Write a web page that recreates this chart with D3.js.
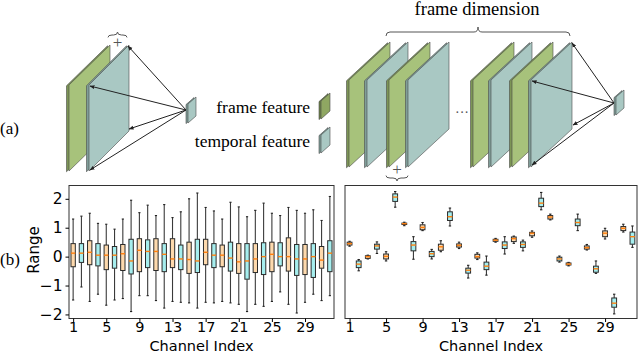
<!DOCTYPE html>
<html>
<head>
<meta charset="utf-8">
<script src="https://cdn.jsdelivr.net/npm/d3@7"></script>
<style>
  body { margin: 0; background: #fff; }
  svg { display: block; }
  .tick text { font-family: "DejaVu Sans", sans-serif; }
</style>
</head>
<body>
<div id="chart"></div>
<script>
// ---- data: left plot (frame dimension, per channel) ----
const channels = d3.range(1, 33);
const tickChannels = [1, 5, 9, 13, 17, 21, 25, 29];
const yTicks = [-2, -1, 0, 1, 2];

const leftLow  = [-1.5, -1.05, -1.55, -1.3, -1.68, -1.5, -1.45, -1.9, -1.35, -1.35, -1.52, -1.78, -1.55, -1.58, -1.6, -1.78,
                  -1.58, -1.6, -1.55, -1.6, -1.65, -1.9, -1.65, -1.72, -1.55, -1.22, -1.65, -1.95, -1.58, -1.3, -1.52, -1.35];
const leftQ1   = [-0.35, -0.2, -0.28, -0.32, -0.45, -0.4, -0.48, -0.6, -0.52, -0.38, -0.48, -0.52, -0.38, -0.45, -0.58, -0.55,
                  -0.28, -0.38, -0.35, -0.5, -0.58, -0.78, -0.55, -0.62, -0.52, -0.32, -0.5, -0.65, -0.62, -0.72, -0.4, -0.52];
const leftMed  = [0.12, 0.12, 0.15, 0.05, 0.05, 0.05, 0.1, -0.15, 0.22, 0.18, 0.18, 0.08, -0.08, -0.08, -0.1, -0.15,
                  0.15, 0.05, 0.05, -0.05, -0.18, -0.15, -0.08, 0.0, 0.08, 0.0, 0.0, -0.08, -0.08, 0.0, -0.12, 0.12];
const leftQ3   = [0.45, 0.45, 0.55, 0.45, 0.4, 0.35, 0.42, 0.6, 0.62, 0.58, 0.62, 0.45, 0.62, 0.4, 0.5, 0.6,
                  0.6, 0.45, 0.4, 0.5, 0.45, 0.45, 0.45, 0.48, 0.5, 0.48, 0.65, 0.42, 0.42, 0.45, 0.35, 0.55];
const leftHigh = [1.3, 1.4, 1.5, 1.15, 1.12, 0.95, 1.3, 1.95, 1.52, 1.78, 1.42, 1.8, 1.35, 1.55, 2.0, 2.2,
                  1.7, 1.58, 1.3, 1.88, 1.72, 1.38, 1.6, 1.85, 1.5, 1.42, 1.7, 1.6, 1.5, 1.62, 1.25, 2.08];

// ---- data: right plot (channel dimension, per channel) ----
const rightLow  = [0.36, -0.49, -0.08, 0.11, -0.15, 1.71, 1.07, -0.09, 0.9, -0.08, 0.17, 1.06, 0.28, -0.74, -0.1, -0.64,
                   0.5, 0.09, 0.46, 0.2, 0.67, 1.62, 1.27, -0.19, -0.32, 0.9, 0.23, -0.58, 0.61, -1.98, 0.85, 0.32];
const rightQ1   = [0.4, -0.38, -0.06, 0.26, -0.08, 1.91, 1.11, 0.2, 0.93, 0.0, 0.22, 1.25, 0.33, -0.57, -0.05, -0.45,
                   0.53, 0.28, 0.52, 0.32, 0.72, 1.73, 1.3, -0.15, -0.29, 1.07, 0.26, -0.54, 0.69, -1.75, 0.9, 0.43];
const rightMed  = [0.45, -0.26, 0.0, 0.37, 0.01, 2.06, 1.14, 0.4, 1.01, 0.1, 0.34, 1.38, 0.39, -0.47, 0.0, -0.33,
                   0.57, 0.4, 0.62, 0.42, 0.81, 1.85, 1.37, -0.08, -0.26, 1.18, 0.31, -0.42, 0.81, -1.61, 0.98, 0.69];
const rightQ3   = [0.5, -0.15, 0.03, 0.43, 0.09, 2.17, 1.16, 0.52, 1.1, 0.18, 0.43, 1.55, 0.44, -0.4, 0.08, -0.19,
                   0.6, 0.51, 0.68, 0.51, 0.84, 2.02, 1.42, -0.02, -0.22, 1.3, 0.37, -0.33, 0.89, -1.43, 1.04, 0.85];
const rightHigh = [0.53, -0.1, 0.05, 0.51, 0.17, 2.25, 1.19, 0.69, 1.18, 0.25, 0.55, 1.68, 0.5, -0.3, 0.13, 0.02,
                   0.63, 0.69, 0.71, 0.57, 0.89, 2.22, 1.47, 0.02, -0.2, 1.47, 0.42, -0.15, 0.98, -1.3, 1.12, 1.06];

const width = 640, height = 354;
const svg = d3.select("#chart").append("svg")
  .attr("width", width)
  .attr("height", height);

const colors = {
  frameBox: "#fdd9ad",
  tempBox: "#a6eeee",
  median: "#ff7f0e",
  green: "#a7c27b",
  greenSide: "#7c9555",
  teal: "#a9c8c3",
  tealSide: "#7f9e99"
};

// ---------------- (b) box plots ----------------
const y = d3.scaleLinear().domain([-2.14, 2.46]).range([318.5, 185.5]);
const xLeft = d3.scaleLinear().domain([0.5, 32.5]).range([69, 334]);
const xRight = d3.scaleLinear().domain([0.5, 32.5]).range([345, 637]);

function boxPlot(x, low, q1, med, q3, high, showY) {
  const g = svg.append("g");
  const rows = channels.map((c, i) => ({ c, lo: low[i], q1: q1[i], med: med[i], q3: q3[i], hi: high[i] }));
  const bw = (x(1.5) - x(1)) * 1.05;  // box width ~ half a channel
  const cap = bw / 2;

  const b = g.selectAll(".box").data(rows).enter().append("g").attr("class", "box");
  b.append("line")
    .attr("x1", d => x(d.c)).attr("x2", d => x(d.c))
    .attr("y1", d => y(d.hi)).attr("y2", d => y(d.q3))
    .attr("stroke", "#3a3a3a").attr("stroke-width", 1.1);
  b.append("line")
    .attr("x1", d => x(d.c)).attr("x2", d => x(d.c))
    .attr("y1", d => y(d.q1)).attr("y2", d => y(d.lo))
    .attr("stroke", "#3a3a3a").attr("stroke-width", 1.1);
  b.selectAll(".cap").data(d => [d.lo, d.hi].map(v => ({ c: d.c, v }))).enter().append("line")
    .attr("x1", d => x(d.c) - cap / 2).attr("x2", d => x(d.c) + cap / 2)
    .attr("y1", d => y(d.v)).attr("y2", d => y(d.v))
    .attr("stroke", "#222").attr("stroke-width", 1.1);
  b.append("rect")
    .attr("x", d => x(d.c) - bw / 2)
    .attr("y", d => y(d.q3))
    .attr("width", bw)
    .attr("height", d => Math.max(1, y(d.q1) - y(d.q3)))
    .attr("fill", d => d.c % 2 === 1 ? colors.frameBox : colors.tempBox)
    .attr("stroke", "#2a2a2a").attr("stroke-width", 1);
  b.append("line")
    .attr("x1", d => x(d.c) - bw / 2).attr("x2", d => x(d.c) + bw / 2)
    .attr("y1", d => y(d.med)).attr("y2", d => y(d.med))
    .attr("stroke", colors.median).attr("stroke-width", 1.4);

  // frame
  const [x0, x1] = x.range();
  const [y1, y0] = y.range();
  g.append("rect")
    .attr("x", x0).attr("y", y0).attr("width", x1 - x0).attr("height", y1 - y0)
    .attr("fill", "none").attr("stroke", "#333").attr("stroke-width", 1);

  const xAxis = d3.axisBottom(x).tickValues(tickChannels).tickSize(3.5).tickPadding(1).tickSizeOuter(0);
  const xg = g.append("g").attr("transform", `translate(0,${y1})`).call(xAxis);
  xg.select(".domain").remove();
  xg.selectAll("text").attr("font-size", 14.5).attr("fill", "#000").attr("dy", "0.62em");

  g.append("text")
    .attr("x", (x0 + x1) / 2).attr("y", 350.5)
    .attr("text-anchor", "middle")
    .attr("font-family", "DejaVu Sans, sans-serif")
    .attr("font-size", 14.5)
    .text("Channel Index");

  if (showY) {
    const yAxis = d3.axisLeft(y).tickValues(yTicks).tickSize(3.5).tickPadding(3)
      .tickFormat(d => d < 0 ? "\u2212" + Math.abs(d) : d);
    const yg = g.append("g").attr("transform", `translate(${x0},0)`).call(yAxis);
    yg.select(".domain").remove();
    yg.selectAll("text").attr("font-size", 15.5).attr("fill", "#000");
  }
}

boxPlot(xLeft, leftLow, leftQ1, leftMed, leftQ3, leftHigh, true);
boxPlot(xRight, rightLow, rightQ1, rightMed, rightQ3, rightHigh, false);

svg.append("text")
  .attr("transform", "translate(38.5,250) rotate(-90)")
  .attr("text-anchor", "middle")
  .attr("font-family", "DejaVu Sans, sans-serif")
  .attr("font-size", 15)
  .text("Range");

// ---------------- (a) diagram ----------------
const serif = "Liberation Serif, Times New Roman, serif";

svg.append("defs").append("marker")
  .attr("id", "arrow")
  .attr("viewBox", "0 0 10 10")
  .attr("refX", 9).attr("refY", 5)
  .attr("markerWidth", 5).attr("markerHeight", 5)
  .attr("orient", "auto")
  .append("path").attr("d", "M0,1 L10,5 L0,9 z").attr("fill", "#222");

const diag = svg.append("g");

// one slab: left edge at x, top of left edge at yl, skewed up-right by (dx, dy), height h
function slab(x, yl, dx, dy, h, t, fill, side) {
  const pts = [[x, yl], [x + dx, yl - dy], [x + dx, yl - dy + h], [x, yl + h]];
  diag.append("polygon")
    .attr("points", pts.map(p => [p[0] - t, p[1] + t * 0.3]).join(" "))
    .attr("fill", side).attr("stroke", "#4a4a4a").attr("stroke-width", 0.6);
  diag.append("polygon")
    .attr("points", pts.join(" "))
    .attr("fill", fill).attr("stroke", "#4a4a4a").attr("stroke-width", 0.6);
}

// left: one frame + one temporal feature
slab(69, 85, 41, 40, 86, 2.5, colors.green, colors.greenSide);
slab(89, 85, 40, 40, 86, 2.5, colors.teal, colors.tealSide);
slab(188, 104, 8, 7, 19, 2, colors.teal, colors.tealSide);

const leftTargets = [[128, 46], [90, 86], [129, 129], [90, 170]];
leftTargets.forEach(t => {
  diag.append("line")
    .attr("x1", 186).attr("y1", 110).attr("x2", t[0]).attr("y2", t[1])
    .attr("stroke", "#222").attr("stroke-width", 1)
    .attr("marker-end", "url(#arrow)");
});

// legend
slab(321, 101, 9, 8, 18, 2, "#8fa762", "#6c8046");
slab(321, 135, 9, 8, 18, 2, colors.teal, colors.tealSide);
diag.append("text").attr("x", 310).attr("y", 113).attr("text-anchor", "end")
  .attr("font-family", serif).attr("font-size", 17.5).text("frame feature");
diag.append("text").attr("x", 310).attr("y", 147).attr("text-anchor", "end")
  .attr("font-family", serif).attr("font-size", 17.5).text("temporal feature");

// right: sequence of frame/temporal features
const rightSlabs = [[349, "g"], [367, "t"], [389, "g"], [408, "t"], [473, "g"], [491, "t"], [512, "g"], [531, "t"]];
rightSlabs.forEach(s => {
  if (s[1] === "g") slab(s[0], 80, 41, 38, 87, 2.5, colors.green, colors.greenSide);
  else slab(s[0], 80, 41, 38, 87, 2.5, colors.teal, colors.tealSide);
});
slab(616, 97, 8, 7, 18, 2, colors.teal, colors.tealSide);

const rightTargets = [[572, 43], [532, 81], [573, 125], [532, 165]];
rightTargets.forEach(t => {
  diag.append("line")
    .attr("x1", 614).attr("y1", 103).attr("x2", t[0]).attr("y2", t[1])
    .attr("stroke", "#222").attr("stroke-width", 1)
    .attr("marker-end", "url(#arrow)");
});

diag.append("text").attr("x", 462).attr("y", 117).attr("text-anchor", "middle")
  .attr("font-family", serif).attr("font-size", 14).attr("fill", "#555").text("\u00b7\u00b7\u00b7");

// braces
function brace(xa, xb, yb, tip) {
  // tip < 0: points up, tip > 0: points down
  const xm = (xa + xb) / 2, e = -tip * 0.8;
  const ym = yb;
  const p = `M${xa},${ym + e} Q${xa},${ym} ${xa + 4},${ym} L${xm - 4},${ym} Q${xm},${ym} ${xm},${ym + tip}
             Q${xm},${ym} ${xm + 4},${ym} L${xb - 4},${ym} Q${xb},${ym} ${xb},${ym + e}`;
  diag.append("path").attr("d", p).attr("fill", "none").attr("stroke", "#555").attr("stroke-width", 1);
}
brace(108, 127, 35, -3);
brace(386, 570, 32, -5);
brace(386, 408, 178, 3);

diag.append("text").attr("x", 117.5).attr("y", 48).attr("text-anchor", "middle")
  .attr("font-family", serif).attr("font-size", 17).attr("fill", "#555").text("+");
diag.append("text").attr("x", 397).attr("y", 175).attr("text-anchor", "middle")
  .attr("font-family", serif).attr("font-size", 17).attr("fill", "#555").text("+");
diag.append("text").attr("x", 477).attr("y", 15).attr("text-anchor", "middle")
  .attr("font-family", serif).attr("font-size", 18.5).text("frame dimension");

// panel labels
diag.append("text").attr("x", 0).attr("y", 134)
  .attr("font-family", serif).attr("font-size", 17).text("(a)");
diag.append("text").attr("x", 0).attr("y", 265)
  .attr("font-family", serif).attr("font-size", 17).text("(b)");
</script>
</body>
</html>
